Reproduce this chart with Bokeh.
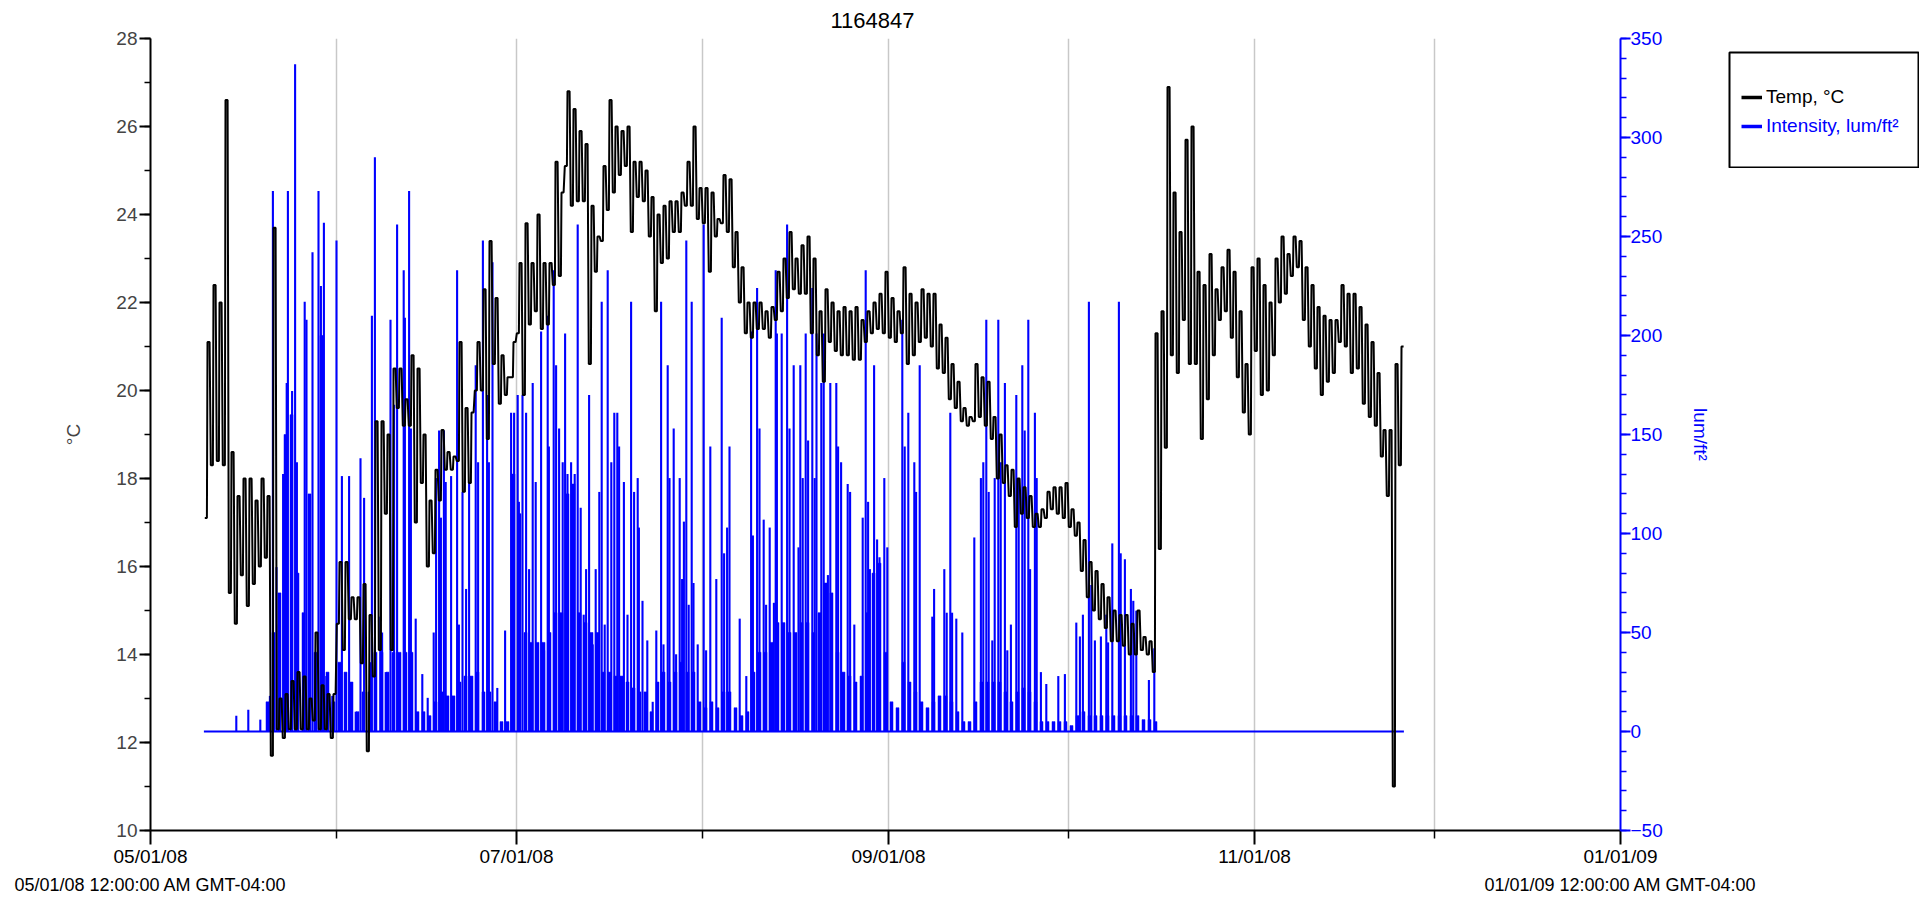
import pandas as pd
from bokeh.plotting import figure
from bokeh.models import (Range1d, LinearAxis, DatetimeAxis, FixedTicker, Grid, Legend,
                          LegendItem, DatetimeTickFormatter)
from bokeh.embed import file_html
from bokeh.resources import INLINE

# ---------------- data ----------------
TITLE = "1164847"
START = "2008-05-01"
END = "2009-01-01"
LABELED_MONTHS = ["2008-05-01", "2008-07-01", "2008-09-01", "2008-11-01", "2009-01-01"]
EDGE_FORMAT = "%m/%d/%y 12:00:00 AM GMT-04:00"

# Temperature (deg C): daily low / high, first entry = day 9 after 05/01/08
temp_first_day = 9
temp_low = [
    17.1, 18.3, 18.4, 18.3, 15.4, 14.7, 15.8, 15.1, 15.6, 16.0, 16.2,            # d9-19
    11.7, 12.3, 12.1, 12.3, 12.3, 12.3, 12.3, 12.5, 12.3, 12.3, 12.1,            # d20-30
    14.7, 14.1, 14.8, 14.8, 13.8, 11.8, 13.5, 14.1, 17.2, 14.1, 19.6,            # d31-41
    19.2, 19.2, 17.0, 17.9, 16.0, 16.3, 17.5, 18.2, 18.2, 18.4,                  # d42-51
    17.7, 17.9, 20.0, 20.0, 18.9, 20.6, 19.7, 19.9, 20.3, 21.3,                  # d52-61
    19.9, 21.5, 21.8, 21.4, 21.5, 22.4, 22.6, 25.1, 24.2, 24.3,                  # d62-71
    24.3, 20.6, 22.7, 23.4, 24.1, 24.5, 24.9, 25.1, 23.6, 24.4, 24.3,            # d72-82
    23.5, 21.8, 22.9, 23.0, 23.6, 23.6, 24.2, 24.2, 23.9, 23.8,                  # d83-92
    22.7, 23.5, 23.8, 23.6, 22.8, 22.0, 21.3, 21.2, 21.4, 21.4,                  # d93-102
    21.2, 21.6, 21.8, 22.1, 22.3, 22.2, 22.2, 21.3, 20.8, 20.2,                  # d103-112
    21.1, 20.9, 20.8, 20.8, 20.7, 20.7, 21.1, 21.3, 21.4, 21.3, 21.2, 21.1,      # d113-124
    21.3, 20.6, 20.8, 21.1, 21.2, 21.0, 20.5, 20.4, 19.8, 19.6,                  # d125-134
    19.3, 19.2, 19.3, 19.4, 19.2, 18.9, 18.0, 17.9, 17.6, 16.9,                  # d135-144
    17.2, 17.1, 16.9, 16.9, 17.1, 17.3, 17.2, 17.1, 16.9, 16.7,                  # d145-154
    15.9, 15.3, 15.0, 14.8, 14.6, 14.3, 14.3, 14.2, 14.0, 14.0, 14.1, 14.0,      # d155-166
    13.6, 16.4, 18.7, 20.8, 20.4, 21.6, 20.6, 20.6, 18.9, 19.8,                  # d167-176
    20.8, 21.6, 21.8, 21.2, 20.3, 19.5, 19.0, 20.9, 19.9, 20.0,                  # d177-186
    20.8, 22.0, 22.2, 22.6, 22.8, 21.6, 21.0, 20.5, 19.9, 20.2,                  # d187-196
    20.4, 21.1, 21.0, 20.4, 20.5, 19.7, 19.4, 19.2, 18.5, 17.6,                  # d197-206
    11.0, 18.3,                                                                  # d207-208
]
temp_high = [
    21.1, 22.4, 22.0, 26.6, 18.6, 17.6, 18.0, 18.0, 17.5, 18.0, 17.6,            # d9-19
    23.7, 13.0, 13.1, 13.4, 13.6, 13.5, 13.0, 14.5, 13.3, 13.1, 13.1,            # d20-30
    16.1, 16.1, 15.3, 15.3, 15.6, 14.9, 19.3, 19.3, 19.0, 20.5, 20.5,            # d31-41
    19.8, 20.8, 20.5, 19.0, 17.5, 18.2, 19.1, 18.6, 18.5, 21.1,                  # d42-51
    19.6, 19.5, 21.1, 22.3, 23.4, 22.1, 20.8, 20.3, 21.1, 22.9,                  # d52-61
    23.8, 22.9, 24.0, 22.9, 22.9, 25.2, 24.5, 26.8, 26.4, 25.9,                  # d62-71
    25.6, 24.2, 23.5, 25.1, 26.6, 26.0, 25.9, 26.0, 25.2, 25.2, 25.0,            # d72-82
    24.4, 24.0, 24.2, 24.3, 24.3, 24.5, 25.2, 26.0, 24.6, 24.6,                  # d83-92
    24.5, 23.9, 24.9, 24.8, 23.6, 22.8, 22.0, 22.0, 22.0, 21.8,                  # d93-102
    21.9, 22.7, 23.0, 23.6, 23.0, 23.3, 23.5, 23.0, 21.8, 22.3,                  # d103-112
    22.0, 21.8, 21.9, 21.8, 21.9, 21.6, 21.8, 22.0, 22.2, 22.7, 22.1, 21.8,      # d113-124
    22.8, 22.2, 22.0, 22.3, 22.2, 22.2, 21.5, 21.2, 20.6, 20.2,                  # d125-134
    19.6, 19.4, 20.6, 20.3, 20.2, 19.4, 19.0, 18.3, 18.2, 18.0,                  # d135-144
    17.8, 17.6, 17.2, 17.3, 17.7, 17.8, 17.8, 17.9, 17.3, 17.0,                  # d145-154
    16.6, 16.1, 15.9, 15.6, 15.3, 15.0, 14.9, 14.9, 14.7, 15.0, 14.4, 14.3,      # d155-166
    21.3, 21.8, 26.9, 24.5, 23.6, 25.7, 26.0, 22.7, 22.4, 23.1,                  # d167-176
    22.3, 22.8, 23.2, 22.7, 21.8, 20.6, 22.8, 23.0, 22.4, 22.0,                  # d177-186
    23.0, 23.5, 23.1, 23.5, 23.4, 22.8, 22.4, 21.9, 21.7, 21.6,                  # d187-196
    21.6, 22.4, 22.2, 22.2, 21.9, 21.5, 21.1, 20.4, 19.1, 19.1,                  # d197-206
    20.6, 21.0,                                                                  # d207-208
]

# Light intensity (lum/ft2): individual peaks (day after 05/01/08, value)
light_spike_day = [
    14.3, 16.3, 18.3, 19.9, 20.4, 21.0, 21.4, 22.1, 22.7, 22.9, 23.6, 24.1, 24.4,
    25.7, 26.0, 27.0, 27.5, 28.0, 28.4, 28.9, 29.3, 30.3, 31.0, 31.9, 33.1, 34.2,
    35.0, 35.6, 36.7, 36.9, 37.4, 38.3, 38.6, 39.2, 40.0, 40.6, 41.1,
    42.2, 42.4, 43.1, 43.4, 44.2, 45.3, 46.2, 47.2, 47.6, 48.1, 48.4, 48.9, 49.2,
    50.1, 51.1, 51.4, 52.0, 52.6, 53.1, 54.2, 54.6, 55.4, 56.1, 56.4, 57.0, 57.8,
    59.1, 60.1, 60.6, 61.2, 61.4, 62.0, 62.6, 63.1, 63.7, 64.2, 65.1, 65.6, 66.2,
    66.4, 67.2, 67.6, 68.1, 68.7, 69.1, 69.5, 70.1, 70.7, 71.2, 71.7, 72.2, 72.6,
    73.1, 73.7, 74.2, 74.8, 75.2, 75.7, 76.2, 76.8, 77.3, 77.8, 78.1, 78.9, 79.5,
    80.1, 80.6, 81.2, 81.4, 82.0, 82.8,
    83.7, 84.3, 85.1, 85.5, 86.2, 86.5, 87.2, 87.6, 88.2, 88.6, 88.9, 89.3, 89.7,
    90.2, 90.5, 91.2, 92.2, 92.6, 93.3, 94.3, 95.2, 95.6, 96.1, 96.5, 98.2, 99.3,
    100.1, 100.4, 101.1, 101.5, 102.2, 102.6, 103.2, 103.9, 104.2, 104.4, 105.2,
    106.1, 106.5, 107.2, 108.0, 108.3, 108.7, 109.2, 109.6, 110.3, 110.7, 111.0,
    111.8, 112.2, 112.9, 113.3, 114.3, 114.6, 115.1, 116.2, 116.6, 117.3, 118.7,
    119.2, 119.6, 119.9, 120.6, 121.1, 121.5, 122.3, 122.8,
    125.3, 125.7, 126.3, 127.3, 127.6, 128.2, 130.3, 130.6, 132.3, 132.7, 133.3,
    133.6, 134.3, 135.3, 137.3, 138.4, 138.8, 139.3, 139.7, 140.3, 140.7, 141.3,
    141.7, 142.4, 142.8, 143.4, 144.3, 144.7, 145.3, 145.7, 146.3, 146.6, 147.4,
    147.7, 148.4, 149.3, 151.3, 152.4, 154.3, 154.9, 155.4, 156.4, 156.8, 157.4,
    158.4, 159.3, 159.6, 160.3, 161.4, 161.7, 162.4, 163.4, 163.8, 164.3, 166.4,
    167.3,
]
light_spike_val = [
    8, 11, 6, 18, 273, 83, 54, 130, 176, 273, 172, 337, 136,
    217, 208, 242, 23, 273, 225, 257, 28, 18, 248, 129, 129, 10,
    138, 118, 35, 210, 290, 58, 50, 30, 208, 165, 256,
    233, 209, 273, 153, 57, 29, 17, 50, 128, 152, 108, 152, 126,
    129, 233, 54, 121, 72, 126, 185, 136, 248, 170, 136, 237, 22,
    51, 161, 161, 170, 116, 170, 161, 82, 176, 126, 202, 41, 210,
    144, 233, 185, 153, 136, 201, 130, 136, 130, 256, 113, 59, 82,
    170, 44, 82, 121, 217, 54, 233, 136, 161, 161, 144, 126, 59,
    217, 121, 128, 103, 66, 46,
    15, 51, 217, 44, 185, 128, 153, 39, 128, 77, 106, 248, 64,
    217, 75, 44, 256, 41, 144, 77, 209, 90, 103, 144, 57, 28,
    202, 99, 224, 153, 107, 64, 103, 65, 233, 201, 201,
    256, 153, 185, 93, 185, 128, 201, 147, 224, 128, 201,
    176, 201, 79, 176, 176, 144, 136, 125, 121, 54, 108,
    233, 116, 82, 185, 97, 88, 128, 93,
    208, 144, 161, 136, 121, 185, 58, 72, 82, 60, 161,
    60, 57, 50, 98, 128, 136, 208, 121, 46, 128, 208,
    136, 176, 41, 54, 170, 128, 185, 152, 208, 82, 161,
    128, 30, 24, 28, 29, 55, 48, 59, 217, 74, 46,
    48, 59, 45, 95, 217, 90, 87, 72, 66, 61, 26,
    42,
]
# Daily daytime level of the dense light band, first entry = day 19
light_first_day = 19
light_base = [
    15,
    50, 70, 150, 160, 80, 60, 120, 40, 200, 30, 15, 35, 30, 25, 10, 20, 20, 40, 40, 30, 40, 40,
    40, 40, 10, 10, 8, 15, 20, 18, 18, 25,
    28, 28, 30, 20, 20, 15, 5, 5, 130, 110,
    50, 45, 45, 45, 50, 60, 60, 120, 125, 60,
    55, 50, 50, 30, 30, 28, 28, 25, 22, 20,
    20,
    10, 25, 30, 25, 30, 35, 30, 30, 15, 12,
    15, 12, 20, 20, 12, 8, 10, 30, 40, 40,
    45, 55, 55, 50, 50, 55, 55, 50, 60, 75,
    70, 40, 30, 28, 25, 28, 60, 80, 85, 40,
    15, 12,
    35, 25, 20, 15, 12, 15, 18, 18, 15, 10,
    5, 5, 15, 25, 25, 25, 25, 20, 15, 20,
    22, 20, 15, 5, 5, 5, 5, 5, 3, 8,
    10, 8, 8, 8, 8, 8, 8, 8, 8, 8,
    6, 6, 5,
]
light_record = [8.9, 208.9]   # first / last logged day (night level 0)

# ---------------- helpers ----------------
DAY = 86400000.0


def ms(ts):
    return pd.Timestamp(ts).value / 1e6


T0, T1 = ms(START), ms(END)
month_ms = [ms(t) for t in pd.date_range(START, END, freq="MS")]
major_ms = [ms(t) for t in LABELED_MONTHS]
minor_ms = [m for m in month_ms if m not in major_ms]

FONT = "Liberation Sans"
FS = "19px"
BLUE = "#0000ff"


def all_formats(f):
    return DatetimeTickFormatter(milliseconds=f, seconds=f, minsec=f, minutes=f, hourmin=f,
                                 hours=f, days=f, months=f, years=f)


# series in plotting coordinates
tx, ty = [], []
for i, (lo, hi) in enumerate(zip(temp_low, temp_high)):
    d = temp_first_day + i
    tx += [T0 + (d + 0.05) * DAY, T0 + (d + 0.4) * DAY,
           T0 + (d + 0.5) * DAY, T0 + (d + 0.85) * DAY]
    ty += [lo, lo, hi, hi]
rec_x = [T0 + d * DAY for d in light_record]
base_x = [T0 + (light_first_day + i + 0.5) * DAY for i in range(len(light_base))]
spike_x = [T0 + d * DAY for d in light_spike_day]

W, H = 1921, 897
p = figure(width=W, height=H, output_backend="svg", toolbar_location=None,
           x_range=Range1d(T0, T1), y_range=Range1d(10, 28), x_axis_type="datetime",
           min_border_left=150, min_border_right=W - 1620, min_border_top=38,
           min_border_bottom=H - 831)
p.extra_y_ranges = {"lux": Range1d(-50, 350)}
p.outline_line_color = None
p.grid.visible = False
p.background_fill_color = "white"

p.title.text = TITLE
p.title.align = "left"
p.title.offset = 680
p.title.text_font = FONT
p.title.text_font_size = "22px"
p.title.text_font_style = "normal"
p.title.text_color = "black"
p.title.standoff = 21

# month grid lines
vgrid = Grid(dimension=0, ticker=FixedTicker(ticks=month_ms[1:-1]),
             grid_line_color="#c8c8c8", grid_line_width=1.5)
p.add_layout(vgrid)

# ---- light intensity ----
p.line(x=rec_x, y=[0, 0], y_range_name="lux", line_color=BLUE, line_width=1.8)
p.vbar(x=base_x, width=0.5 * DAY, top=light_base, bottom=0, y_range_name="lux",
       fill_color=BLUE, line_color=BLUE, line_width=0.5)
p.segment(x0=spike_x, y0=[0] * len(spike_x), x1=spike_x, y1=light_spike_val,
          y_range_name="lux", line_color=BLUE, line_width=2.1)

# ---- temperature ----
p.line(x=tx, y=ty, line_color="black", line_width=2)

# ---- axes ----
xa = p.xaxis[0]
xa.ticker = FixedTicker(ticks=major_ms, minor_ticks=minor_ms)
xa.formatter = all_formats("%m/%d/%y")
xa.major_tick_in = 0
xa.major_tick_out = 14
xa.minor_tick_in = 0
xa.minor_tick_out = 8
xa.major_label_standoff = 1
xa.axis_line_width = 2
xa.major_tick_line_width = 2
xa.minor_tick_line_width = 1.5
xa.major_label_text_font = FONT
xa.major_label_text_font_size = FS
xa.major_label_text_color = "black"

# second row of bottom labels: full date-time at the two ends
xa2 = DatetimeAxis(ticker=FixedTicker(ticks=[T0, T1]), formatter=all_formats(EDGE_FORMAT))
xa2.axis_line_color = None
xa2.major_tick_line_color = None
xa2.minor_tick_line_color = None
xa2.major_tick_in = 0
xa2.major_tick_out = 0
xa2.major_label_standoff = 5
xa2.major_label_text_font = FONT
xa2.major_label_text_font_size = "18px"
xa2.major_label_text_color = "black"
p.add_layout(xa2, "below")

ya = p.yaxis[0]
ya.ticker = FixedTicker(ticks=list(range(10, 29, 2)), minor_ticks=list(range(10, 29, 1)))
ya.major_tick_in = 0
ya.major_tick_out = 11
ya.minor_tick_in = 0
ya.minor_tick_out = 6
ya.major_label_standoff = 2
ya.axis_line_width = 2
ya.major_tick_line_width = 2
ya.minor_tick_line_width = 1.5
ya.major_label_text_font = FONT
ya.major_label_text_font_size = FS
ya.axis_label = "°C"
ya.axis_label_text_font = FONT
ya.axis_label_text_font_size = FS
ya.axis_label_text_font_style = "normal"
ya.axis_label_standoff = 29

ra = LinearAxis(y_range_name="lux",
                ticker=FixedTicker(ticks=list(range(-50, 351, 50)),
                                   minor_ticks=list(range(-50, 351, 10))),
                axis_label="lum/ft²")
ra.major_tick_in = 0
ra.major_tick_out = 10
ra.minor_tick_in = 0
ra.minor_tick_out = 6
ra.major_label_standoff = 0
ra.axis_line_color = BLUE
ra.axis_line_width = 2
ra.major_tick_line_color = BLUE
ra.major_tick_line_width = 2
ra.minor_tick_line_color = BLUE
ra.minor_tick_line_width = 1.5
ra.major_label_text_color = BLUE
ra.major_label_text_font = FONT
ra.major_label_text_font_size = FS
ra.axis_label_text_color = BLUE
ra.axis_label_text_font = FONT
ra.axis_label_text_font_size = FS
ra.axis_label_text_font_style = "normal"
ra.axis_label_standoff = 24
p.add_layout(ra, "right")

# ---- legend box (small figure laid over the top-right corner) ----
LX, LY, LW, LH = 1728, 51, 191, 117
pl = figure(width=LW, height=LH, output_backend="svg", toolbar_location=None,
            x_range=Range1d(0, 1), y_range=Range1d(0, 1),
            x_axis_location=None, y_axis_location=None,
            min_border=1, min_border_left=1, min_border_right=1,
            min_border_top=1, min_border_bottom=1,
            styles={"position": "absolute", "left": f"{LX}px", "top": f"{LY}px",
                    "z-index": "10"})
pl.grid.visible = False
pl.outline_line_color = "black"
pl.outline_line_width = 2
pl.background_fill_color = "white"
pl.border_fill_color = "white"
# same series again (outside this box's ranges): they only supply the legend glyphs
leg_t = pl.line(x=tx, y=ty, line_color="black", line_width=3.5)
leg_i = pl.line(x=rec_x, y=[0, 0], line_color=BLUE, line_width=3.5)
common = dict(glyph_width=21, glyph_height=22, label_height=22, label_standoff=4,
              label_text_font=FONT, label_text_font_size=FS, margin=0, padding=0,
              spacing=0, border_line_color=None, background_fill_alpha=0.0)
pl.add_layout(Legend(items=[LegendItem(label="Temp, °C", renderers=[leg_t])],
                     location=(12, 59), label_text_color="black", **common))
pl.add_layout(Legend(items=[LegendItem(label="Intensity, lum/ft²", renderers=[leg_i])],
                     location=(12, 30), label_text_color=BLUE, **common))

open("out.html", "w").write(file_html([p, pl], INLINE))
